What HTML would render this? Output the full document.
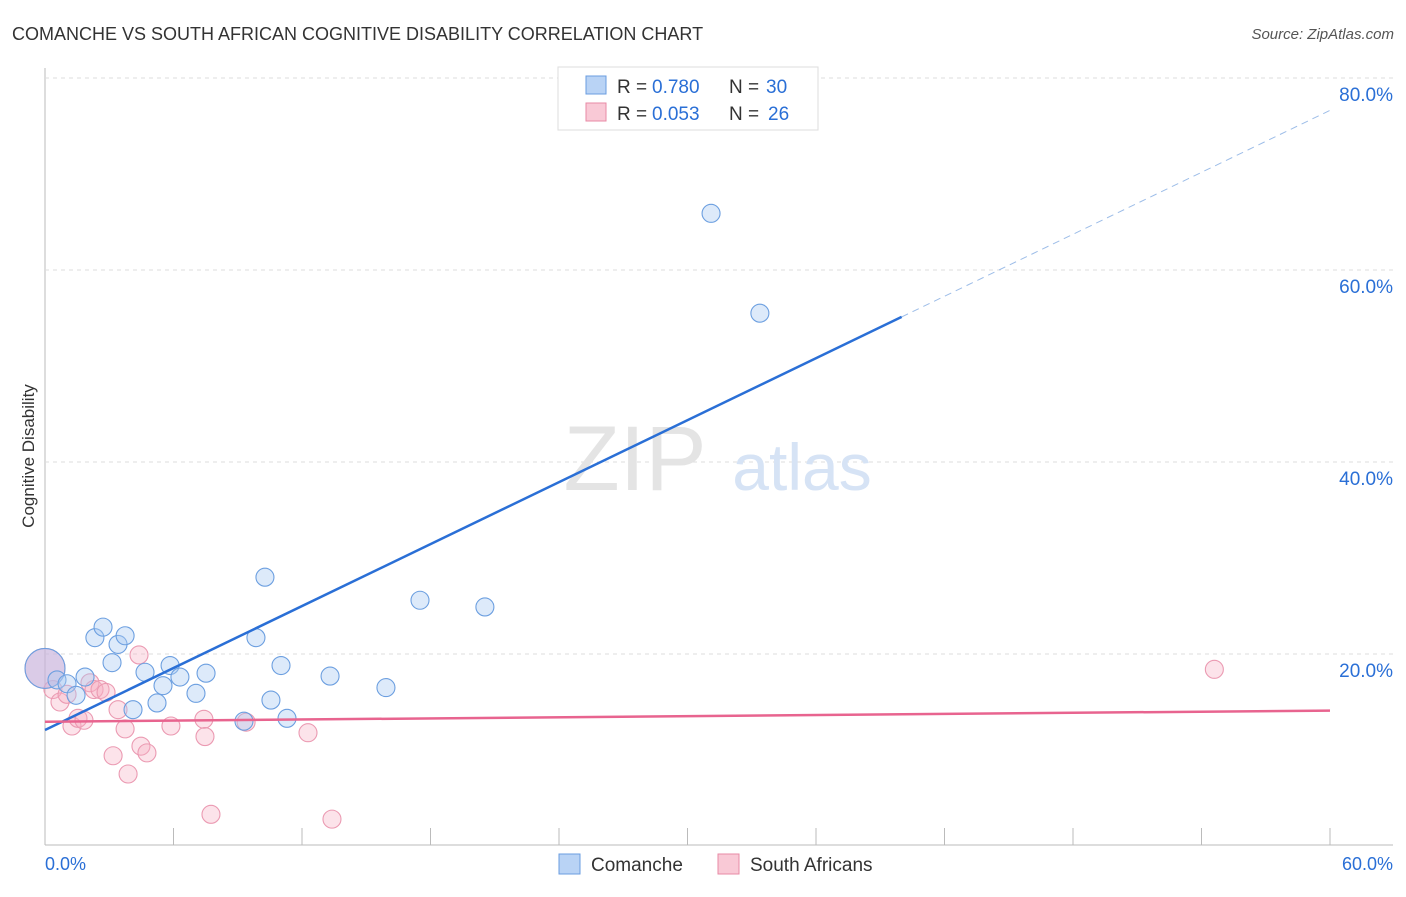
<!DOCTYPE html>
<html><head><meta charset="utf-8"><style>
body{margin:0;background:#fff;font-family:"Liberation Sans",sans-serif}
svg text{font-family:"Liberation Sans",sans-serif}
</style></head><body>
<svg id="c" width="1406" height="892">
<text x="12" y="40" font-size="18" fill="#333">COMANCHE VS SOUTH AFRICAN COGNITIVE DISABILITY CORRELATION CHART</text>
<text x="1394" y="39" font-size="15" fill="#555" font-style="italic" text-anchor="end">Source: ZipAtlas.com</text>
<text x="34" y="456" font-size="17" fill="#333" text-anchor="middle" transform="rotate(-90 34 456)">Cognitive Disability</text>
<g id="grid"></g>
<text x="635" y="490" font-size="92" fill="#e4e4e4" font-family="Liberation Serif" text-anchor="middle">ZIP</text>
<text x="802" y="490" font-size="66" fill="#d6e3f5" text-anchor="middle">atlas</text>
<g id="pts"></g>
<g id="lines"></g>
<g>
<rect x="558" y="67" width="260" height="63" fill="#fff" stroke="#ddd"/>
<rect x="586" y="76" width="20" height="18" fill="#b9d3f5" stroke="#6a9de0"/>
<text x="617" y="93" font-size="19" fill="#333">R =</text>
<text x="652" y="93" font-size="19" fill="#2a6fd6">0.780</text>
<text x="729" y="93" font-size="19" fill="#333">N =</text>
<text x="766" y="93" font-size="19" fill="#2a6fd6">30</text>
<rect x="586" y="103" width="20" height="18" fill="#f9c9d6" stroke="#e88aa5"/>
<text x="617" y="120" font-size="19" fill="#333">R =</text>
<text x="652" y="120" font-size="19" fill="#2a6fd6">0.053</text>
<text x="729" y="120" font-size="19" fill="#333">N =</text>
<text x="768" y="120" font-size="19" fill="#2a6fd6">26</text>
</g>
<text x="45" y="870" font-size="18" fill="#2a6fd6">0.0%</text>
<text x="1393" y="870" font-size="18" fill="#2a6fd6" text-anchor="end">60.0%</text>
<g>
<rect x="559" y="854" width="21" height="20" fill="#b9d3f5" stroke="#6a9de0"/>
<text x="591" y="871" font-size="19" fill="#333">Comanche</text>
<rect x="718" y="854" width="21" height="20" fill="#f9c9d6" stroke="#e88aa5"/>
<text x="750" y="871" font-size="19" fill="#333">South Africans</text>
</g>
</svg>
<script>
const yTicks=[20,40,60,80];
const blueX=[0,0.56,1.03,1.45,1.87,2.33,2.71,3.13,3.41,3.74,4.11,4.67,5.23,5.51,5.84,6.30,7.05,7.52,9.29,9.85,10.27,10.55,11.02,11.30,13.31,15.92,17.51,20.54,31.10,33.38];
const blueY=[18.5,17.3,16.9,15.7,17.6,21.7,22.8,19.1,21.0,21.9,14.2,18.1,14.9,16.7,18.8,17.6,15.9,18.0,13.0,21.7,28.0,15.2,18.8,13.3,17.7,16.5,25.6,24.9,65.9,55.5];
const pinkX=[0,0.37,0.70,1.03,1.26,1.54,1.82,2.10,2.29,2.57,2.85,3.18,3.41,3.74,3.88,4.39,4.48,4.76,5.88,7.42,7.47,7.75,9.39,12.28,13.40,54.6];
const pinkY=[18.5,16.3,15.0,15.8,12.5,13.3,13.1,17.0,16.3,16.3,16.0,9.4,14.2,12.2,7.5,19.9,10.4,9.7,12.5,13.2,11.4,3.3,12.9,11.8,2.8,18.4];
const X=v=>45+v*1285/60, Y=v=>846-v*9.6;
const NS="http://www.w3.org/2000/svg";
function mk(t,a,p){const e=document.createElementNS(NS,t);for(const k in a)e.setAttribute(k,a[k]);p.appendChild(e);return e;}
const svg=document.getElementById('c'),grid=document.getElementById('grid'),pts=document.getElementById('pts'),lines=document.getElementById('lines');
mk('line',{x1:45,y1:68,x2:45,y2:845,stroke:'#bbb'},grid);
mk('line',{x1:45,y1:845,x2:1393,y2:845,stroke:'#bbb'},grid);
for(let i=0;i<=10;i++){const l=mk('line',{x1:X(i*6),x2:X(i*6),y1:828,y2:845,stroke:'#bbb'},grid);

}
yTicks.forEach(t=>{const g=mk('line',{x1:45,x2:1393,y1:Y(t),y2:Y(t),stroke:'#ddd','stroke-dasharray':'4,4'},grid);


const tx=mk('text',{x:1393,y:Y(t)+23,'font-size':19,fill:'#2a6fd6','text-anchor':'end'},grid);tx.textContent=t.toFixed(1)+'%';

});
function dots(xs,ys,fill,stroke,name,big){xs.forEach((x,i)=>{const c=mk('circle',{cx:X(x),cy:Y(ys[i]),r:(x===0?20:9),fill:(x===0?big:fill),stroke:stroke,'stroke-width':1.1},pts);

});}
dots(pinkX,pinkY,'rgba(246,175,196,0.35)','#eb9ab2','south-africans-point','rgba(246,175,196,0.3)');
dots(blueX,blueY,'rgba(170,202,242,0.4)','#6c9fe0','comanche-point','rgba(190,180,225,0.55)');
function fit(xs,ys){const n=xs.length;let sx=0,sy=0,sxx=0,sxy=0;xs.forEach((x,i)=>{sx+=x;sy+=ys[i];sxx+=x*x;sxy+=x*ys[i];});const b=(n*sxy-sx*sy)/(n*sxx-sx*sx);return [(sy-b*sx)/n,b];}
const [ba,bb]=fit(blueX,blueY),[pa,pb]=fit(pinkX,pinkY);
let l=mk('line',{x1:X(0),y1:Y(ba),x2:X(40),y2:Y(ba+bb*40),stroke:'#2a6fd6','stroke-width':2.5},lines);


l=mk('line',{x1:X(40),y1:Y(ba+bb*40),x2:X(60),y2:Y(ba+bb*60),stroke:'#9dbde8','stroke-width':1,'stroke-dasharray':'7,5'},lines);


l=mk('line',{x1:X(0),y1:Y(pa),x2:X(60),y2:Y(pa+pb*60),stroke:'#e8648f','stroke-width':2.5},lines);


</script>
</body></html>
